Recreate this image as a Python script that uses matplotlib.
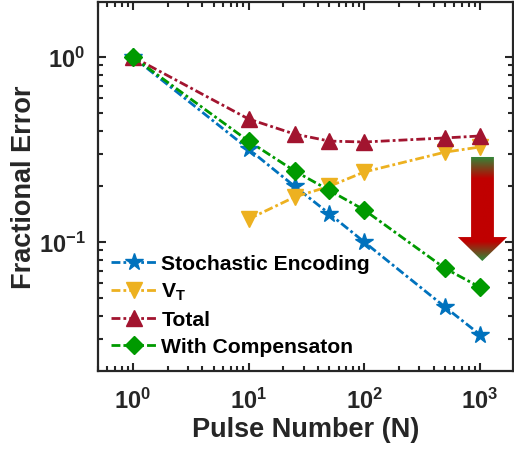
import numpy as np
import matplotlib
matplotlib.use("Agg")
import matplotlib.pyplot as plt
from matplotlib.patches import Polygon
from matplotlib.colors import to_rgb
from matplotlib.ticker import LogLocator, NullFormatter

plt.rcParams['font.family'] = ['Liberation Sans', 'DejaVu Sans']
plt.rcParams['font.weight'] = 'bold'
plt.rcParams['mathtext.fontset'] = 'custom'
plt.rcParams['mathtext.rm'] = 'Liberation Sans:bold'
plt.rcParams['mathtext.it'] = 'Liberation Sans:bold'
plt.rcParams['mathtext.bf'] = 'Liberation Sans:bold'
plt.rcParams['mathtext.default'] = 'regular'
plt.rcParams['axes.unicode_minus'] = False

# Data
pulses = [1, 10, 25, 50, 100, 500, 1000]
stochastic = [1.0, 0.318, 0.200, 0.142, 0.100, 0.0445, 0.0316]
vt_pulses = [10, 25, 50, 100, 500, 1000]
vt = [0.133, 0.175, 0.200, 0.239, 0.306, 0.326]
total = [1.0, 0.462, 0.383, 0.351, 0.347, 0.365, 0.374]
compensated = [1.0, 0.351, 0.242, 0.190, 0.149, 0.072, 0.057]

labels = ['Stochastic Encoding', r'V$_{\mathregular{T}}$', 'Total', 'With Compensaton']
colors = ['#0072BD', '#EDB120', '#A2142F', '#009A00']

fig = plt.figure(figsize=(5.14, 4.52), dpi=100)
ax = fig.add_axes([98/514, 80/452, 415/514, 369/452])

lw = 2.0
dash = (0, (3.2, 1.1, 1.0, 1.1))
ax.plot(pulses, stochastic, color=colors[0], lw=lw, ls=dash, marker='*', ms=13,
        label=labels[0])
ax.plot(vt_pulses, vt, color=colors[1], lw=lw, ls=dash, marker='v', ms=12,
        label=labels[1])
ax.plot(pulses, total, color=colors[2], lw=lw, ls=dash, marker='^', ms=12,
        label=labels[2])
ax.plot(pulses, compensated, color=colors[3], lw=lw, ls=dash, marker='D', ms=9.5,
        label=labels[3])

ax.set_xscale('log')
ax.set_yscale('log')
ax.set_xlim(0.5, 1930)
ax.set_ylim(0.0201, 1.98)

ax.xaxis.set_major_locator(LogLocator(base=10, numticks=10))
ax.xaxis.set_minor_locator(LogLocator(base=10, subs=np.arange(2, 10), numticks=20))
ax.yaxis.set_major_locator(LogLocator(base=10, numticks=10))
ax.yaxis.set_minor_locator(LogLocator(base=10, subs=np.arange(2, 10), numticks=20))
ax.xaxis.set_minor_formatter(NullFormatter())
ax.yaxis.set_minor_formatter(NullFormatter())

ax.tick_params(which='both', direction='in', top=True, right=True,
               colors='#262626', width=1.5)
ax.tick_params(which='major', length=6, labelsize=17)
ax.tick_params(axis='x', which='major', pad=12)
ax.tick_params(axis='y', which='major', pad=9)
ax.tick_params(which='minor', length=3.5)
for s in ax.spines.values():
    s.set_linewidth(1.6)
    s.set_color('#262626')

ax.set_xlabel('Pulse Number (N)', fontsize=19.5, fontweight='bold', color='#262626',
              labelpad=2)
ax.set_ylabel('Fractional Error', fontsize=19.5, fontweight='bold', color='#262626',
              labelpad=1)

leg = ax.legend(loc='lower left', frameon=False, fontsize=15.2, handlelength=2.2,
                handletextpad=0.2, labelspacing=0.38, borderaxespad=0.2,
                bbox_to_anchor=(0.0, 0.005))

# Gradient arrow (green -> red -> green), clipped to an arrow outline
arrow = np.array([
    [0.899, 0.580], [0.954, 0.580], [0.954, 0.363], [0.986, 0.363],
    [0.926, 0.298], [0.867, 0.363], [0.899, 0.363],
])
green = np.array(to_rgb('#2E8B3A'))
red = np.array(to_rgb('#C00000'))
ys = np.linspace(0.580, 0.298, 200)
frac = np.zeros_like(ys)
top = ys > 0.52
frac[top] = (ys[top] - 0.52) / (0.580 - 0.52)
low = ys < 0.35
frac[low] = (0.35 - ys[low]) / (0.35 - 0.298)
grad = (1 - frac)[:, None] * red + frac[:, None] * green
img = np.repeat(grad[:, None, :], 2, axis=1)
im = ax.imshow(img, extent=[0.867, 0.986, 0.298, 0.580], transform=ax.transAxes,
               aspect='auto', zorder=5, interpolation='bilinear')
clip = Polygon(arrow, closed=True, transform=ax.transAxes, facecolor='none',
               edgecolor='none')
ax.add_patch(clip)
im.set_clip_path(clip)

fig.savefig('out.png', dpi=100)
